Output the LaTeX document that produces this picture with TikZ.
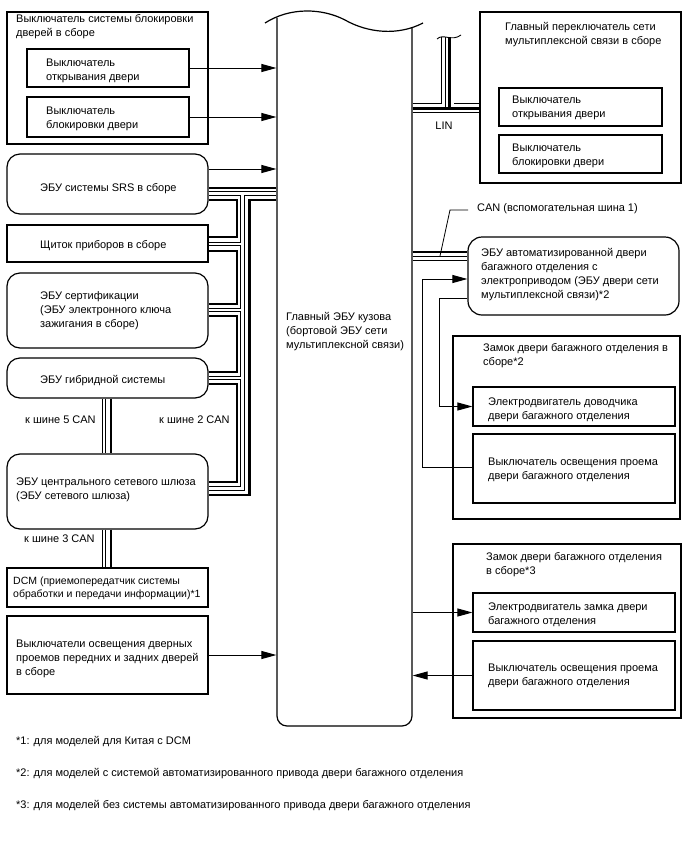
\documentclass[tikz,border=0pt]{standalone}
\usepackage{fontspec}
\setmainfont{Liberation Sans}
\usetikzlibrary{arrows.meta,fit}
\begin{document}
\begin{tikzpicture}[x=1pt,y=-1pt,
  box/.style={draw=black, line width=1.2pt, inner sep=0pt},
  rbox/.style={box, rounded corners=13pt},
  txt/.style={anchor=north west, inner sep=0pt, align=left, font=\fontsize{11}{13.8}\selectfont},
  arr/.style={line width=1pt, -{Triangle[length=15pt,width=8pt]}},
  ln/.style={line width=1pt},
  thk/.style={line width=2.8pt},
  dbl/.style={draw=black, line width=0.8pt, double=white, double distance=2.6pt},
]
\fill[white] (0,0) rectangle (688,852);
\useasboundingbox (0,0) rectangle (688,852);
\newcommand\tx[3]{\node[txt] (#1) at #2 {\rule{0pt}{8pt}#3};}

% ---------- buses (left) ----------
\node[box, draw=none, fit={(277,20)(412,726)}] (main) {};
\node[rbox, fit={(7,154)(208,214)}] (srs) {};
\node[box, fit={(7,225)(208,262)}] (cluster) {};
\node[rbox, fit={(7,273)(208,348)}] (cert) {};
\node[rbox, fit={(7,358)(208,398)}] (hybrid) {};
\node[rbox, fit={(7,454)(208,529)}] (gateway) {};
\node[box, fit={(7,568)(208,607)}] (dcm) {};

\draw[thk] (srs.east |- 0,188) -- (main.west |- 0,188);
\draw[thk] (srs.east |- 0,200) -- (237,200) |- (cluster.east |- 0,237);
\draw[thk] (cluster.east |- 0,251) -- (237,251) |- (cert.east |- 0,304);
\draw[thk] (cert.east |- 0,316) -- (237,316) |- (hybrid.east |- 0,372);
\draw[thk] (hybrid.east |- 0,384) -- (237,384) |- (gateway.east |- 0,482);
\draw[thk] (main.west |- 0,200) -- (249.5,200) |- (gateway.east |- 0,495);
\draw[dbl] (srs.east |- 0,193.5) -- (main.west |- 0,193.5)
           (242.5,193.5) |- (gateway.east |- 0,488.5)
           (cluster.east |- 0,244) -- (242.5,244)
           (cert.east |- 0,310) -- (242.5,310)
           (hybrid.east |- 0,378) -- (242.5,378);
\draw[dbl] (104,0 |- hybrid.south) -- (104,0 |- gateway.north);
\draw[thk] (111,0 |- hybrid.south) -- (111,0 |- gateway.north);
\draw[dbl] (104,0 |- gateway.south) -- (104,0 |- dcm.north);
\draw[thk] (111,0 |- gateway.south) -- (111,0 |- dcm.north);

% ---------- main body ECU ----------
\draw[line width=1.2pt, rounded corners=10pt] (277,17.5) -- (277,726) -- (412,726) -- (412,28);
\draw[line width=1.2pt] (265,23) .. controls (290,7) and (322,8) .. (345,20) .. controls (368,33) and (398,36) .. (423,23);
\tx{maintx}{(286,312.5)}{Главный ЭБУ кузова\\(бортовой ЭБУ сети\\мультиплексной связи)}

% ---------- left boxes ----------
\node[box, fit={(7,12)(208,144)}] (lockgrp) {};
\node[box, fit={(27,49)(189,87)}] (open1) {};
\node[box, fit={(27,97)(189,137)}] (lock1) {};
\node[box, fit={(7,616)(208,694)}] (courtesy) {};

\tx{t1}{(16,14.5)}{Выключатель системы блокировки\\дверей в сборе}
\tx{t2}{(46,58.5)}{Выключатель\\открывания двери}
\tx{t3}{(46,106.5)}{Выключатель\\блокировки двери}
\tx{t4}{(40,183.5)}{ЭБУ системы SRS в сборе}
\tx{t5}{(40,240.5)}{Щиток приборов в сборе}
\tx{t6}{(40,291.5)}{ЭБУ сертификации\\(ЭБУ электронного ключа\\зажигания в сборе)}
\tx{t7}{(40,375.5)}{ЭБУ гибридной системы}
\tx{t8}{(25,415.5)}{к шине 5 CAN}
\tx{t9}{(159,415.5)}{к шине 2 CAN}
\tx{t10}{(16,477.5)}{ЭБУ центрального сетевого шлюза\\(ЭБУ сетевого шлюза)}
\tx{t11}{(24,534.5)}{к шине 3 CAN}
\node[txt, font=\fontsize{10.5}{13.2}\selectfont] (t12) at (13,576) {\rule{0pt}{8pt}DCM (приемопередатчик системы\\обработки и передачи информации)*1};
\tx{t13}{(16,639.5)}{Выключатели освещения дверных\\проемов передних и задних дверей\\в сборе}

\draw[arr] (open1.east) -- (open1.east -| main.west);
\draw[arr] (lock1.east) -- (lock1.east -| main.west);
\draw[arr] (srs.east |- 0,169) -- (main.west |- 0,169);
\draw[arr] (courtesy.east) -- (courtesy.east -| main.west);

% ---------- right side ----------
\node[box, fit={(480,12)(681,183)}] (swgrp) {};
\node[box, fit={(499,88)(662,126)}] (open2) {};
\node[box, fit={(499,135)(662,173)}] (lock2) {};
\node[box, rounded corners=14pt, fit={(468,237)(679,315)}] (tgecu) {};
\node[box, fit={(453,336)(680,519)}] (lockA) {};
\node[box, fit={(473,387)(675,426)}] (closer) {};
\node[box, fit={(473,434)(675,503)}] (tgsw1) {};
\node[box, fit={(453,544)(681,718)}] (lockB) {};
\node[box, fit={(473,593)(675,632)}] (lmotor) {};
\node[box, fit={(473,641)(675,710)}] (tgsw2) {};

% LIN
\draw[draw=black, line width=0.8pt, double=white, double distance=12pt]
  (main.east |- 0,109.5) -- (swgrp.west |- 0,109.5) (447.5,37) -- (447.5,109.5);
\draw[line width=2.6pt] (main.east |- 0,108.5) -- (swgrp.west |- 0,108.5) (449.5,37) -- (449.5,108.5);
\draw[line width=0.8pt] (main.east |- 0,112.8) -- (swgrp.west |- 0,112.8) (445,37) -- (445,107);
\draw[line width=0.9pt] (437,39) .. controls (443,33) and (452,42) .. (461,35);
\node[txt, anchor=north] (lin) at (444,121.5) {\rule{0pt}{8pt}LIN};

% CAN sub bus 1
\draw[thk] (main.east |- 0,252) -- (tgecu.west |- 0,252);
\draw[dbl] (main.east |- 0,258.5) -- (tgecu.west |- 0,258.5);
\tx{canl}{(477,203.5)}{CAN (вспомогательная шина 1)}
\draw[line width=0.8pt] (440,256) -- (450,210) -- (468,210);

\tx{r1}{(505,22.5)}{Главный переключатель сети\\мультиплексной связи в сборе}
\tx{r2}{(512,95.5)}{Выключатель\\открывания двери}
\tx{r3}{(512,143.5)}{Выключатель\\блокировки двери}
\tx{r4}{(481,248.5)}{ЭБУ автоматизированной двери\\багажного отделения с\\электроприводом (ЭБУ двери сети\\мультиплексной связи)*2}
\tx{r5}{(483,343.5)}{Замок двери багажного отделения в\\сборе*2}
\tx{r6}{(488,397.5)}{Электродвигатель доводчика\\двери багажного отделения}
\tx{r7}{(488,457.5)}{Выключатель освещения проема\\двери багажного отделения}
\tx{r8}{(486,552.5)}{Замок двери багажного отделения\\в сборе*3}
\tx{r9}{(488,602.5)}{Электродвигатель замка двери\\багажного отделения}
\tx{r10}{(488,663.5)}{Выключатель освещения проема\\двери багажного отделения}

\draw[arr] (tgsw1.west |- 0,467) -- ++(-50,0) |- (tgecu.west |- 0,279);
\draw[arr] (tgecu.west |- 0,298) -- ++(-28,0) |- (closer.west);
\draw[arr] (main.east |- lmotor.west) -- (lmotor.west);
\draw[arr] (tgsw2.west) -- (tgsw2.west -| main.east);

% ---------- footnotes ----------
\tx{f1}{(16,736.5)}{*1: для моделей для Китая с DCM}
\tx{f2}{(16,768.5)}{*2: для моделей с системой автоматизированного привода двери багажного отделения}
\tx{f3}{(16,800.5)}{*3: для моделей без системы автоматизированного привода двери багажного отделения}
\end{tikzpicture}
\end{document}
